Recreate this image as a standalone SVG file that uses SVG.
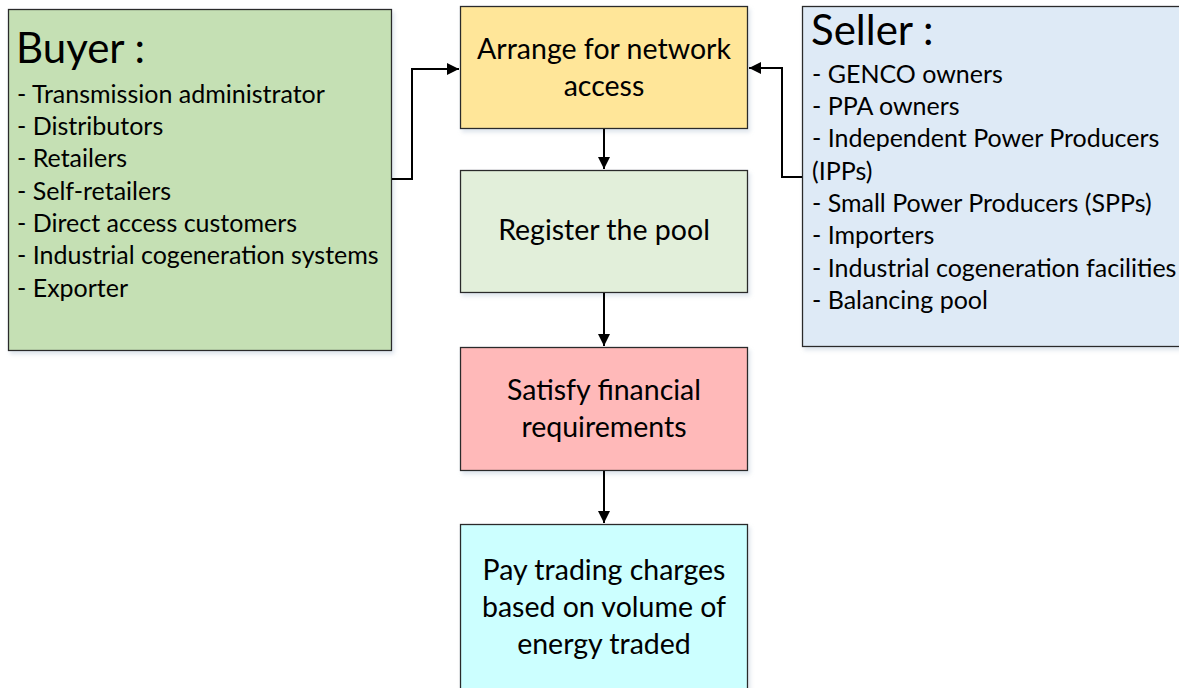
<svg xmlns="http://www.w3.org/2000/svg" width="1179" height="688" viewBox="0 0 1179 688">
<style>
.box{stroke:#2b2b2b;stroke-width:1.3}
.list{font-family:Lato,"Open Sans",sans-serif;font-size:25px;fill:#000}
.head{font-family:Lato,"Open Sans",sans-serif;font-size:42px;fill:#000}
.ctr{font-family:Lato,"Open Sans",sans-serif;font-size:28.5px;fill:#000;text-anchor:middle}
.conn{fill:none;stroke:#000;stroke-width:2}
</style>
<defs>
<marker id="arr" viewBox="0 0 10 10" refX="10" refY="5" markerWidth="6" markerHeight="6" markerUnits="strokeWidth" orient="auto">
<path d="M0,0 L10,5 L0,10 z" fill="#000"/>
</marker>
<filter id="sh" x="-5%" y="-5%" width="115%" height="115%">
<feDropShadow dx="2" dy="3" stdDeviation="2" flood-color="#9db0c8" flood-opacity="0.35"/>
</filter>
</defs>
<rect width="1179" height="688" fill="#fff"/>
<g id="buyer">
<rect class="box" x="8.5" y="9.5" width="383" height="341" fill="#C5E0B4" filter="url(#sh)"/>
<text class="head" x="16" y="63">Buyer :</text>
<text class="list" x="17" y="103">- Transmission administrator</text>
<text class="list" x="17" y="135">- Distributors</text>
<text class="list" x="17" y="167">- Retailers</text>
<text class="list" x="17" y="200">- Self-retailers</text>
<text class="list" x="17" y="232">- Direct access customers</text>
<text class="list" x="17" y="264">- Industrial cogeneration systems</text>
<text class="list" x="17" y="297">- Exporter</text>
</g>
<g id="arrange">
<rect class="box" x="460.5" y="6.5" width="287" height="122" fill="#FFE699" filter="url(#sh)"/>
<text class="ctr" x="604" y="59">Arrange for network</text>
<text class="ctr" x="604" y="96">access</text>
</g>
<g id="register">
<rect class="box" x="460.5" y="170.5" width="287" height="122" fill="#E2EFDA" filter="url(#sh)"/>
<text class="ctr" x="604" y="240">Register the pool</text>
</g>
<g id="satisfy">
<rect class="box" x="460.5" y="347.5" width="287" height="123" fill="#FFB9B9" filter="url(#sh)"/>
<text class="ctr" x="604" y="400">Satisfy financial</text>
<text class="ctr" x="604" y="437">requirements</text>
</g>
<g id="pay">
<rect class="box" x="460.5" y="524.5" width="287" height="170" fill="#CCFFFF" filter="url(#sh)"/>
<text class="ctr" x="604" y="580">Pay trading charges</text>
<text class="ctr" x="604" y="617">based on volume of</text>
<text class="ctr" x="604" y="654">energy traded</text>
</g>
<g id="seller">
<rect class="box" x="802.5" y="6.5" width="390" height="340" fill="#DEEAF6" filter="url(#sh)"/>
<text class="head" x="811" y="45">Seller :</text>
<text class="list" x="812" y="83">- GENCO owners</text>
<text class="list" x="812" y="115">- PPA owners</text>
<text class="list" x="812" y="147">- Independent Power Producers</text>
<text class="list" x="812" y="180">(IPPs)</text>
<text class="list" x="812" y="212">- Small Power Producers (SPPs)</text>
<text class="list" x="812" y="244">- Importers</text>
<text class="list" x="812" y="277">- Industrial cogeneration facilities</text>
<text class="list" x="812" y="309">- Balancing pool</text>
</g>
<g id="connectors">
<path class="conn" d="M392,179 H412 V69 H459" marker-end="url(#arr)"/>
<path class="conn" d="M802,177 H782 V68 H749" marker-end="url(#arr)"/>
<path class="conn" d="M604,129 V169" marker-end="url(#arr)"/>
<path class="conn" d="M604,293 V346" marker-end="url(#arr)"/>
<path class="conn" d="M604,471 V523" marker-end="url(#arr)"/>
</g>
</svg>
